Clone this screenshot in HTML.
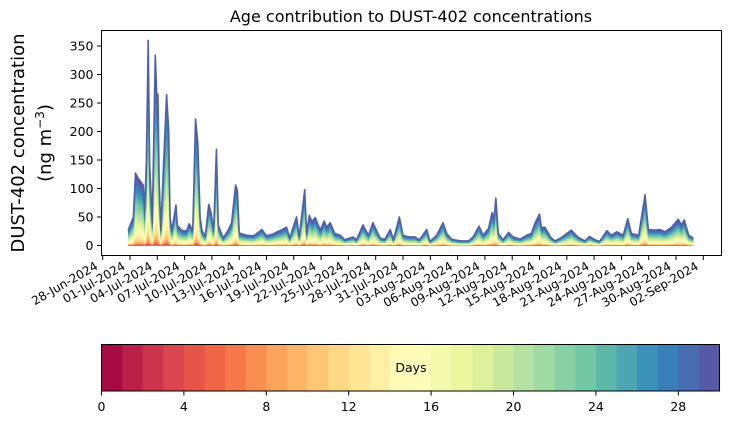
<!DOCTYPE html>
<html><head><meta charset="utf-8"><style>
html,body{margin:0;padding:0;background:#fff;}
svg{display:block;font-family:"DejaVu Sans","Liberation Sans",sans-serif;}
</style></head><body>
<svg id="chart" width="730" height="425" viewBox="0 0 730 425" xmlns="http://www.w3.org/2000/svg">
<g id="areas"></g>
<g id="axes"></g>
<g id="cbar"></g>
<text x="411" y="22" font-size="16" text-anchor="middle">Age contribution to DUST-402 concentrations</text>
<text transform="translate(24,143) rotate(-90)" font-size="18" text-anchor="middle">DUST-402 concentration</text>
<text transform="translate(51,143) rotate(-90)" font-size="18" text-anchor="middle">(ng m<tspan baseline-shift="super" font-size="12">−3</tspan>)</text>
</svg>
<script>
// day offsets since 28-Jun-2024 00:00
const days = [2.8,3.37,3.6,3.9,4.27,4.45,4.6,4.8,5.0,5.16,5.45,5.78,5.93,6.07,6.2,6.4,6.65,7.02,7.25,7.4,7.57,7.76,8.05,8.2,8.67,9.2,9.5,9.9,10.2,10.45,10.7,10.9,11.28,11.65,11.9,12.2,12.5,12.7,13.25,13.8,14.17,14.6,14.8,15.0,15.8,16.6,17.5,18.0,18.7,19.3,19.5,20.2,20.55,21.3,21.6,22.2,22.4,22.7,23.0,23.36,23.9,24.35,24.6,25.0,25.5,26.1,26.6,27.5,27.9,28.6,29.2,29.7,30.1,30.5,31.0,31.6,31.95,32.6,33.0,33.6,34.3,34.8,35.6,35.97,36.7,37.4,37.8,38.35,39.3,40.2,40.7,41.35,41.8,42.4,42.8,43.0,43.2,43.47,44.0,44.6,45.1,45.9,46.6,47.1,47.5,48.0,48.2,48.6,49.2,49.7,50.4,51.5,52.2,53.0,53.5,54.1,54.6,55.4,55.9,56.5,57.2,57.7,58.1,58.9,59.6,59.96,60.7,61.2,61.8,62.5,63.25,63.6,63.9,64.4,64.9];
const totals = [27,50,127,118,110,106,62,145,360,140,40,334,267,265,115,27,127,265,202,50,27,42,71,35,27,25,38,27,222,180,50,27,16,72,58,27,169,35,13,27,40,106,97,22,18,17,28,17,20,25,26,32,13,50,15,98,21,53,42,49,27,43,32,40,21,18,10,15,10,36,18,40,26,13,11,28,10,50,18,15,15,10,28,7,18,40,21,11,8,8,15,34,18,30,58,45,83,21,10,23,15,11,18,21,39,55,32,32,15,8,14,27,15,8,16,10,7,26,18,24,18,47,21,18,89,28,27,28,24,32,46,36,45,18,13];
const ageWeights = [0.1,0.1,0.15,0.2,0.25,0.3,0.4,0.5,0.7,0.9,1.2,1.5,1.8,2.2,2.5,2.8,3,3.2,3.3,3.4,3.5,3.6,3.7,3.8,3.9,4,4.1,4.2,4.4,6];
const yTicks = [0,50,100,150,200,250,300,350];
const xTickLabels = ["28-Jun-2024","01-Jul-2024","04-Jul-2024","07-Jul-2024","10-Jul-2024","13-Jul-2024","16-Jul-2024","19-Jul-2024","22-Jul-2024","25-Jul-2024","28-Jul-2024","31-Jul-2024","03-Aug-2024","06-Aug-2024","09-Aug-2024","12-Aug-2024","15-Aug-2024","18-Aug-2024","21-Aug-2024","24-Aug-2024","27-Aug-2024","30-Aug-2024","02-Sep-2024"];
const cbarTicks = [0,4,8,12,16,20,24,28];

const NS="http://www.w3.org/2000/svg";
const PL=101.5, PR=721.5, PT=30.5, PB=255.5;
const xs = d => 102.7 + d*9.1;
const ys = v => 245.5 - v*0.57;
const spectral=["#9e0142","#d53e4f","#f46d43","#fdae61","#fee08b","#ffffbf","#e6f598","#abdda4","#66c2a5","#3288bd","#5e4fa2"];
function hex(h){return [1,3,5].map(i=>parseInt(h.substr(i,2),16));}
function cmap(t){const p=t*10,i=Math.min(9,Math.floor(p)),f=p-i;const a=hex(spectral[i]),b=hex(spectral[i+1]);
 return "rgb("+a.map((c,k)=>Math.round(c+(b[k]-c)*f)).join(",")+")";}
function mk(tag,attrs,parent){const e=document.createElementNS(NS,tag);for(const k in attrs)e.setAttribute(k,attrs[k]);parent.appendChild(e);return e;}

const areas=document.getElementById('areas');
const wsum=ageWeights.reduce((a,b)=>a+b,0);
let cum=[0];ageWeights.forEach(w=>cum.push(cum[cum.length-1]+w/wsum));
for(let k=0;k<ageWeights.length;k++){
  let top=days.map((d,i)=>xs(d).toFixed(2)+","+ys(totals[i]*cum[k+1]).toFixed(2));
  let bot=days.map((d,i)=>xs(d).toFixed(2)+","+ys(totals[i]*cum[k]).toFixed(2)).reverse();
  const p=mk('path',{d:"M"+top.join("L")+"L"+bot.join("L")+"Z",fill:cmap((k+0.5)/30),stroke:cmap((k+0.5)/30),'stroke-width':0.3},areas);
  
  
}
const topLine=mk('polyline',{points:days.map((d,i)=>xs(d).toFixed(2)+","+ys(totals[i]).toFixed(2)).join(" "),fill:"none",stroke:"#5060a8",'stroke-width':1.6,'stroke-linejoin':'round'},areas);



const axes=document.getElementById('axes');
const frame=mk('rect',{x:PL,y:PT,width:PR-PL,height:PB-PT,fill:"none",stroke:"#000",'stroke-width':1},axes);


yTicks.forEach(v=>{
  const y=ys(v);
  mk('line',{x1:PL-4.5,x2:PL,y1:y,y2:y,stroke:"#000",'stroke-width':1},axes);
  const t=mk('text',{x:PL-8,y:y+4.5,'font-size':12.5,'text-anchor':'end'},axes);
  t.textContent=v;
  
  
});
xTickLabels.forEach((lab,i)=>{
  const x=xs(i*3);
  mk('line',{x1:x,x2:x,y1:PB,y2:PB+4.5,stroke:"#000",'stroke-width':1},axes);
  const t=mk('text',{transform:`translate(${x-4},${PB+13}) rotate(-30)`,'font-size':12,'text-anchor':'end'},axes);
  t.textContent=lab;
  
  
});

const cb=document.getElementById('cbar');
const CL=101.5, CW=20.6, CT=344.5, CB=391;
for(let k=0;k<30;k++){
  const r=mk('rect',{x:CL+k*CW,y:CT,width:CW+0.4,height:CB-CT,fill:cmap((k+0.5)/30)},cb);
  
  
}
mk('rect',{x:CL,y:CT,width:30*CW,height:CB-CT,fill:"none",stroke:"#000",'stroke-width':1},cb);
cbarTicks.forEach(v=>{
  const x=CL+v*CW;
  mk('line',{x1:x,x2:x,y1:CB,y2:CB+4.5,stroke:"#000",'stroke-width':1},cb);
  const t=mk('text',{x:x,y:CB+20,'font-size':12.5,'text-anchor':'middle'},cb);
  t.textContent=v;
  
  
});
const dl=mk('text',{x:411,y:372,'font-size':12.5,'text-anchor':'middle'},cb);
dl.textContent="Days";


</script>
</body></html>
